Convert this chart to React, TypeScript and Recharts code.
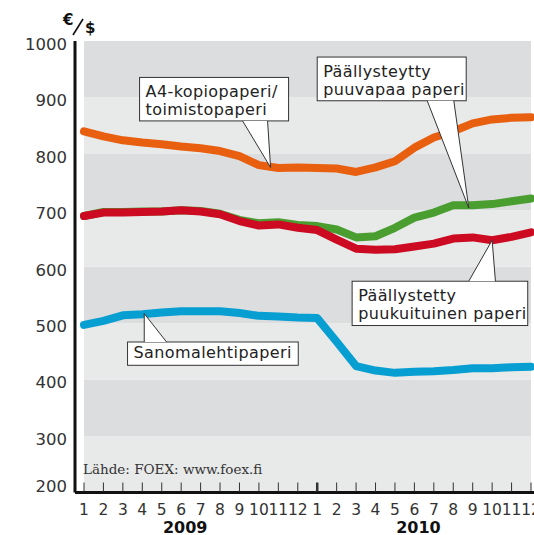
import React from "react";
import {
  LineChart,
  Line,
  XAxis,
  YAxis,
  ReferenceArea,
  ReferenceDot,
} from "recharts";

// kuukaudet 2009 ja 2010
const monthLabels = [
  "1", "2", "3", "4", "5", "6", "7", "8", "9", "10", "11", "12",
  "1", "2", "3", "4", "5", "6", "7", "8", "9", "10", "11", "12",
];
const years = [
  { label: "2009", at: 5 },
  { label: "2010", at: 17 },
];
const yTicks = [200, 300, 400, 500, 600, 700, 800, 900, 1000];

const a4Copy = [840, 831, 824, 820, 817, 813, 810, 805, 796, 780, 775, 776, 775, 774, 768, 776, 787, 811, 829, 840, 854, 861, 864, 865];
const coatedWoodfree = [690, 697, 697, 698, 698, 700, 699, 694, 683, 677, 679, 674, 672, 666, 652, 654, 669, 687, 696, 709, 709, 711, 716, 721];
const coatedMechanical = [690, 696, 696, 697, 698, 700, 698, 693, 681, 673, 675, 669, 665, 648, 632, 630, 631, 636, 641, 650, 652, 647, 653, 661];
const newsprint = [497, 504, 514, 516, 519, 521, 521, 521, 518, 513, 512, 510, 509, 467, 424, 416, 412, 414, 415, 417, 420, 420, 422, 423];

const FONT = "'DejaVu Sans', sans-serif";

const chartData = monthLabels.map((m, i) => ({
  idx: i,
  month: m,
  a4: a4Copy[i],
  woodfree: coatedWoodfree[i],
  mechanical: coatedMechanical[i],
  news: newsprint[i],
}));

// selitelaatikot: kärki datapisteessä, laatikko siirtymänä kärjestä
const callouts = [
  { lines: ["A4-kopiopaperi/", "toimistopaperi"], x: 9.6, y: 776, bx: -131, by: -90, w: 149, h: 43.5, p1: -28, p2: -3 },
  { lines: ["Päällysteytty", "puuvapaa paperi"], x: 19.8, y: 704, bx: -151.6, by: -151, w: 149, h: 43.7, p1: -41.6, p2: -15 },
  { lines: ["Päällystetty", "puukuituinen paperi"], x: 21, y: 647, bx: -140, by: 41, w: 175.6, h: 44.3, p1: -23.4, p2: 3.3 },
  { lines: ["Sanomalehtipaperi"], x: 3.1, y: 517, bx: -16.7, by: 28.4, w: 170.7, h: 23.3, p1: 0, p2: 22.3 },
];

function Callout({ cx, cy, c }: any) {
  if (cx == null || cy == null) return null;
  const left = cx + c.bx;
  const top = cy + c.by;
  const baseY = c.by < 0 ? top + c.h : top;
  const b1 = cx + c.p1;
  const b2 = cx + c.p2;
  return (
    <g>
      <rect x={left} y={top} width={c.w} height={c.h} fill="#fff" stroke="#333" strokeWidth={1} />
      <polygon points={`${b1},${baseY} ${cx},${cy} ${b2},${baseY}`} fill="#fff" />
      <line x1={b1} y1={baseY} x2={cx} y2={cy} stroke="#333" strokeWidth={1} />
      <line x1={b2} y1={baseY} x2={cx} y2={cy} stroke="#333" strokeWidth={1} />
      {c.lines.map((t: string, i: number) => (
        <text
          key={i}
          x={left + 6}
          y={top + (c.lines.length === 1 ? 16.5 : 19.5 + i * 18.5)}
          fontFamily={FONT}
          fontSize={16}
          letterSpacing={0.4}
          fill="#222"
        >
          {t}
        </text>
      ))}
    </g>
  );
}

function MonthTick({ x, y, payload }: any) {
  const i = payload.value;
  const major = i === 12;
  const year = years.find((yr) => yr.at === i);
  return (
    <g>
      <line x1={x} y1={y - 1} x2={x} y2={y - 10} stroke="#333" strokeWidth={major ? 2.5 : 1} />
      <text x={x} y={y + 22} textAnchor="middle" fontFamily={FONT} fontSize={15.5} fill="#333">
        {monthLabels[i]}
      </text>
      {year && (
        <text x={x + 4} y={y + 40} textAnchor="middle" fontFamily={FONT} fontSize={16} fontWeight="bold" fill="#111">
          {year.label}
        </text>
      )}
    </g>
  );
}

function ValueTick({ x, y, payload }: any) {
  const dy = payload.value === yTicks[0] ? -6 : 3;
  return (
    <text x={x} y={y + dy} dy="0.355em" textAnchor="end" fontFamily={FONT} fontSize={16.5} fill="#333">
      {payload.value}
    </text>
  );
}

export default function App() {
  const bands = yTicks.slice(0, -1).map((v, i) => ({
    y1: v,
    y2: yTicks[i + 1],
    fill: i % 2 === 0 ? "#e8e9e9" : "#dcdddf",
  }));

  return (
    <div style={{ position: "absolute", left: 0, top: 0, width: 534, height: 535, background: "#fff", overflow: "hidden" }}>
      <LineChart
        width={534}
        height={535}
        data={chartData}
        margin={{ top: 41, right: 0, left: 0, bottom: 0 }}
      >
        {bands.map((b) => (
          <ReferenceArea key={b.y1} y1={b.y1} y2={b.y2} fill={b.fill} fillOpacity={1} stroke="none" />
        ))}
        <XAxis
          dataKey="idx"
          type="number"
          domain={[0, 23]}
          ticks={chartData.map((d) => d.idx)}
          interval={0}
          padding={{ left: 9, right: 3 }}
          height={42.5}
          tickSize={0}
          tickMargin={0}
          tickLine={false}
          axisLine={{ stroke: "#111", strokeWidth: 3 }}
          tick={<MonthTick />}
        />
        <YAxis
          type="number"
          domain={[200, 1000]}
          ticks={yTicks}
          interval={0}
          width={75}
          tickSize={0}
          tickMargin={8}
          tickLine={false}
          axisLine={{ stroke: "#111", strokeWidth: 3 }}
          tick={<ValueTick />}
        />
        <Line dataKey="a4" stroke="#e8600f" strokeWidth={8} strokeLinecap="round" strokeLinejoin="round" dot={false} isAnimationActive={false} />
        <Line dataKey="woodfree" stroke="#4a9e2f" strokeWidth={8} strokeLinecap="round" strokeLinejoin="round" dot={false} isAnimationActive={false} />
        <Line dataKey="mechanical" stroke="#cc0a22" strokeWidth={8} strokeLinecap="round" strokeLinejoin="round" dot={false} isAnimationActive={false} />
        <Line dataKey="news" stroke="#079ed2" strokeWidth={8} strokeLinecap="round" strokeLinejoin="round" dot={false} isAnimationActive={false} />
        {callouts.map((c) => (
          <ReferenceDot
            key={c.lines[0]}
            x={c.x}
            y={c.y}
            r={1}
            ifOverflow="visible"
            shape={(props: any) => <Callout cx={props.cx} cy={props.cy} c={c} />}
          />
        ))}
      </LineChart>
      <svg width={534} height={535} style={{ position: "absolute", left: 0, top: 0, pointerEvents: "none" }}>
        <text x={63} y={25} fontFamily={FONT} fontSize={15} fontWeight="bold" fill="#111">€</text>
        <line x1={73} y1={35} x2={83} y2={19} stroke="#111" strokeWidth={1.6} />
        <text x={85} y={33} fontFamily={FONT} fontSize={15} fontWeight="bold" fill="#111">$</text>
        <text x={83} y={474} fontFamily="'DejaVu Serif', serif" fontSize={13.5} fill="#333">
          Lähde: FOEX: www.foex.fi
        </text>
      </svg>
    </div>
  );
}
